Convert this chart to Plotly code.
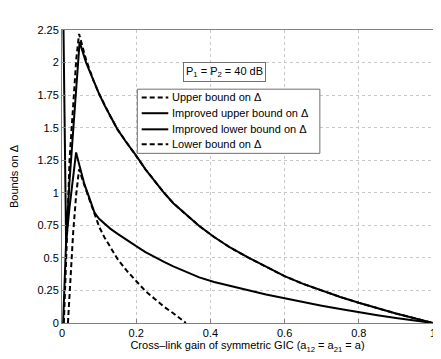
import plotly.graph_objects as go

# cross-link gain a and the four bound curves
a_ub = [0.005, 0.008, 0.0126, 0.0206, 0.0296, 0.0386, 0.046, 0.055, 0.065, 0.075, 0.085,
        0.1, 0.115, 0.13, 0.15, 0.175, 0.2, 0.225, 0.25, 0.275, 0.3, 0.335, 0.37, 0.41,
        0.453, 0.5, 0.55, 0.6, 0.65, 0.7, 0.75, 0.8, 0.85, 0.9, 0.95, 1.0]
ub = [0.0, 0.2, 0.6, 1.265, 1.65, 2.03, 2.22, 2.12, 2.02, 1.94, 1.86,
      1.76, 1.67, 1.59, 1.485, 1.38, 1.285, 1.18, 1.09, 1.0, 0.92, 0.83, 0.745, 0.66,
      0.58, 0.505, 0.43, 0.36, 0.30, 0.248, 0.2, 0.155, 0.113, 0.073, 0.036, 0.0]

a_iub = [0.0, 0.011, 0.02, 0.03, 0.04, 0.0475, 0.055, 0.065, 0.075, 0.085,
         0.1, 0.115, 0.13, 0.15, 0.175, 0.2, 0.225, 0.25, 0.275, 0.3, 0.335, 0.37, 0.41,
         0.453, 0.5, 0.55, 0.6, 0.65, 0.7, 0.75, 0.8, 0.85, 0.9, 0.95, 1.0]
iub = [3.2, 0.62, 1.08, 1.48, 1.87, 2.16, 2.09, 2.0, 1.93, 1.86,
       1.76, 1.67, 1.59, 1.485, 1.38, 1.285, 1.18, 1.09, 1.0, 0.92, 0.83, 0.745, 0.66,
       0.58, 0.505, 0.43, 0.36, 0.30, 0.248, 0.2, 0.155, 0.113, 0.073, 0.036, 0.0]

a_ilb = [0.003, 0.011, 0.02, 0.03, 0.038, 0.047, 0.06, 0.075, 0.088, 0.1, 0.115, 0.13,
         0.15, 0.175, 0.2, 0.225, 0.25, 0.275, 0.3, 0.335, 0.37, 0.41, 0.453, 0.5, 0.55,
         0.6, 0.65, 0.7, 0.75, 0.8, 0.85, 0.9, 0.95, 1.0]
ilb = [0.0, 0.62, 0.88, 1.12, 1.31, 1.21, 1.07, 0.95, 0.845, 0.80, 0.76, 0.725,
       0.685, 0.635, 0.59, 0.545, 0.505, 0.47, 0.435, 0.39, 0.35, 0.315, 0.285, 0.252, 0.219,
       0.19, 0.16, 0.133, 0.107, 0.082, 0.06, 0.039, 0.019, 0.0]

a_lb = [0.016, 0.023, 0.030, 0.038, 0.046, 0.06, 0.075, 0.085, 0.1, 0.115, 0.13, 0.15,
        0.175, 0.2, 0.225, 0.25, 0.275, 0.3, 0.32, 0.334]
lb = [0.0, 0.35, 0.69, 0.98, 1.18, 1.06, 0.94, 0.86, 0.74, 0.655, 0.58, 0.49,
      0.40, 0.32, 0.245, 0.185, 0.125, 0.075, 0.03, 0.0]

x_ticks = [0, 0.2, 0.4, 0.6, 0.8, 1]
x_labels = ["0", "0.2", "0.4", "0.6", "0.8", "1"]
y_ticks = [0, 0.25, 0.5, 0.75, 1, 1.25, 1.5, 1.75, 2, 2.25]
y_labels = ["0", "0.25", "0.5", "0.75", "1", "1.25", "1.5", "1.75", "2", "2.25"]

FONT = "Liberation Sans, Arial, Helvetica, sans-serif"
DASH = "5px,3px"

series = [
    ("Upper bound on Δ", a_ub, ub, DASH),
    ("Improved upper bound on Δ", a_iub, iub, "solid"),
    ("Improved lower bound on Δ", a_ilb, ilb, "solid"),
    ("Lower bound on Δ", a_lb, lb, DASH),
]

fig = go.Figure()
for name, x, y, dash in series:
    fig.add_trace(go.Scatter(x=x, y=y, mode="lines", name=name, showlegend=False,
                             line=dict(color="black", width=2, dash=dash)))

# MATLAB-style legend box: plotly's own legend can't pack rows this tightly
lg_x0, lg_x1, lg_y0, lg_y1 = 0.203, 0.695, 0.579, 0.798
row_y = [0.770, 0.716, 0.661, 0.610]
fig.add_shape(type="rect", xref="paper", yref="paper", x0=lg_x0, x1=lg_x1, y0=lg_y0, y1=lg_y1,
              line=dict(color="#707070", width=1), fillcolor="white", layer="above")
for (name, _, _, dash), ry in zip(series, row_y):
    fig.add_shape(type="line", xref="paper", yref="paper", x0=0.2148, x1=0.2865, y0=ry, y1=ry,
                  line=dict(color="black", width=2, dash=dash), layer="above")
    fig.add_annotation(x=0.2911, y=ry, xref="paper", yref="paper", text=name,
                       showarrow=False, xanchor="left", yanchor="middle",
                       font=dict(size=11, color="black", family=FONT))

fig.add_annotation(x=0.437, y=1.93, xref="x", yref="y",
                   text="P<sub>1</sub> = P<sub>2</sub> = 40 dB", showarrow=False,
                   bordercolor="#707070", borderwidth=1, borderpad=2,
                   font=dict(size=11, color="black", family=FONT))

axis_common = dict(showline=True, mirror=True, linecolor="#808080", linewidth=1,
                   ticks="inside", ticklen=4, tickcolor="#808080",
                   showgrid=True, gridcolor="#c8c8c8", griddash="dot", gridwidth=1,
                   zeroline=False, automargin=False,
                   tickfont=dict(size=11, color="black", family=FONT))

fig.update_xaxes(range=[0, 1], tickvals=x_ticks, ticktext=x_labels,
                 title=dict(text="Cross–link gain of symmetric GIC (a<sub>12</sub> = a<sub>21</sub> = a)",
                            font=dict(size=11, color="black", family=FONT), standoff=2),
                 **axis_common)
fig.update_yaxes(range=[0, 2.25], tickvals=y_ticks, ticktext=y_labels,
                 title=dict(text="Bounds on Δ", font=dict(size=11, color="black", family=FONT),
                            standoff=20),
                 **axis_common)

# the page body adds an 8px offset, so the figure is 8px smaller than the window
fig.update_layout(
    width=433, height=351,
    margin=dict(l=54, r=8, t=22, b=36),
    paper_bgcolor="white", plot_bgcolor="white",
    font=dict(family=FONT, size=11, color="black"),
    showlegend=False,
)

fig.write_html("out.html")
